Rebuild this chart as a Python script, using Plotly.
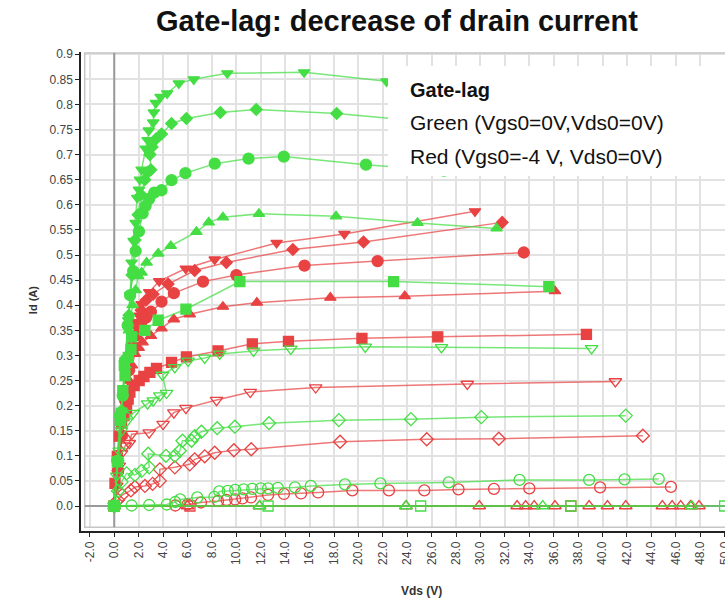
import plotly.graph_objects as go

# ---------------- data (Vds in V, Id in A) ----------------
# Green: Vgs0=0V, Vds0=0V
g1_x = [0, 0.3, 0.6, 0.9, 1.15, 1.3, 1.42, 1.58, 1.75, 1.88, 2.02, 2.10, 2.24, 2.57, 2.73, 2.83, 3.19, 3.24, 3.41, 3.79, 4.33, 5.29, 6.51, 9.26, 15.55, 22.3, 27.0]
g1_y = [0, 0.09, 0.19, 0.29, 0.37, 0.42, 0.485, 0.528, 0.564, 0.614, 0.630, 0.650, 0.670, 0.712, 0.729, 0.748, 0.764, 0.784, 0.803, 0.815, 0.822, 0.842, 0.850, 0.862, 0.864, 0.846, 0.835]

g2_x = [0, 0.3, 0.6, 0.9, 1.2, 1.45, 1.7, 1.95, 2.2, 2.5, 2.75, 3.0, 2.92, 3.1, 3.41, 3.87, 4.69, 5.91, 8.69, 11.63, 18.22, 24.5]
g2_y = [0, 0.09, 0.19, 0.29, 0.38, 0.46, 0.53, 0.58, 0.62, 0.65, 0.665, 0.670, 0.700, 0.715, 0.731, 0.741, 0.762, 0.772, 0.784, 0.790, 0.782, 0.768]

g3_x = [0, 0.25, 0.47, 0.69, 0.9, 1.1, 1.3, 1.55, 1.75, 2.02, 2.32, 2.57, 2.86, 3.27, 3.87, 4.69, 5.83, 8.23, 11.0, 13.89, 20.62, 27.0]
g3_y = [0, 0.09, 0.18, 0.22, 0.29, 0.36, 0.42, 0.468, 0.508, 0.547, 0.583, 0.598, 0.612, 0.624, 0.629, 0.649, 0.663, 0.682, 0.692, 0.696, 0.680, 0.668]

g4_x = [0, 0.3, 0.6, 0.9, 1.2, 1.5, 1.75, 1.96, 2.24, 2.65, 3.6, 4.63, 6.73, 7.74, 8.9, 11.85, 18.17, 24.84, 31.32]
g4_y = [0, 0.09, 0.19, 0.28, 0.35, 0.40, 0.43, 0.458, 0.465, 0.485, 0.503, 0.518, 0.546, 0.565, 0.575, 0.582, 0.577, 0.564, 0.553]

g5_x = [0, 0.25, 0.5, 0.7, 0.88, 0.82, 1.15, 1.37, 1.42, 2.51, 3.6, 5.87, 10.29, 22.88, 35.6]
g5_y = [0, 0.088, 0.17, 0.23, 0.26, 0.28, 0.296, 0.312, 0.337, 0.35, 0.37, 0.392, 0.447, 0.447, 0.437]

g6_x = [0, 0.2, 0.4, 0.6, 1.0, 1.55, 2.73, 3.19, 3.73, 4.28, 3.95, 4.96, 6.05, 7.41, 8.64, 11.41, 14.46, 20.56, 26.8, 39.1]
g6_y = [0, 0.06, 0.11, 0.15, 0.168, 0.185, 0.204, 0.210, 0.220, 0.225, 0.261, 0.276, 0.289, 0.295, 0.303, 0.309, 0.313, 0.317, 0.316, 0.314]

g7_x = [0, 0.3, 0.6, 1.01, 1.69, 2.24, 2.86, 2.78, 4.23, 4.96, 5.37, 5.59, 6.33, 6.59, 7.14, 8.43, 9.88, 12.68, 18.4, 24.3, 30.07, 41.9]
g7_y = [0, 0.03, 0.048, 0.065, 0.062, 0.070, 0.077, 0.104, 0.100, 0.100, 0.110, 0.130, 0.130, 0.139, 0.148, 0.155, 0.158, 0.165, 0.171, 0.173, 0.177, 0.180]

g8_x = [0, 1.42, 2.86, 4.3, 5.0, 5.4, 6.8, 8.2, 8.6, 9.3, 9.9, 10.6, 11.3, 12.0, 12.6, 13.4, 14.8, 16.1, 18.9, 21.8, 27.4, 33.2, 38.9, 41.8, 44.6]
g8_y = [0, 0.001, 0.002, 0.003, 0.008, 0.013, 0.017, 0.018, 0.029, 0.030, 0.032, 0.033, 0.034, 0.035, 0.035, 0.036, 0.037, 0.040, 0.043, 0.045, 0.047, 0.052, 0.052, 0.053, 0.054]

g9_x = [0, 11.9, 23.9, 35.1, 47.3]
g9_y = [0, 0, 0, 0, 0]

g10_x = [0, 12.6, 25.1, 37.4, 50.0]
g10_y = [0, 0, 0, 0, 0]

# Red: Vgs0=-4V, Vds0=0V
r1_x = [0, 0.3, 0.6, 0.9, 1.2, 1.5, 1.83, 2.04, 2.24, 2.86, 3.68, 5.86, 8.23, 13.3, 18.85, 29.55]
r1_y = [0, 0.07, 0.14, 0.21, 0.27, 0.32, 0.366, 0.379, 0.402, 0.426, 0.448, 0.473, 0.491, 0.524, 0.542, 0.587]

r2_x = [0, 0.3, 0.6, 0.9, 1.2, 1.5, 1.8, 2.2, 2.6, 3.19, 4.41, 6.59, 9.18, 14.63, 20.42, 31.78]
r2_y = [0, 0.07, 0.14, 0.21, 0.27, 0.32, 0.36, 0.39, 0.41, 0.422, 0.442, 0.469, 0.485, 0.511, 0.526, 0.565]

r3_x = [0, 0.3, 0.6, 0.9, 1.2, 1.5, 1.8, 2.2, 2.6, 3.0, 3.87, 4.88, 7.27, 10.0, 15.58, 21.57, 33.55]
r3_y = [0, 0.07, 0.14, 0.21, 0.27, 0.31, 0.34, 0.365, 0.375, 0.387, 0.407, 0.424, 0.447, 0.460, 0.479, 0.488, 0.505]

r4_x = [0, 0.3, 0.6, 0.9, 1.2, 1.45, 1.69, 2.0, 2.32, 3.0, 3.87, 4.88, 6.18, 8.9, 11.68, 17.7, 23.8, 36.1]
r4_y = [0, 0.07, 0.14, 0.20, 0.25, 0.28, 0.303, 0.315, 0.326, 0.339, 0.354, 0.372, 0.382, 0.397, 0.405, 0.415, 0.418, 0.428]

r5_x = [0, 0.06, 0.25, 0.41, 0.6, 0.8, 1.01, 1.14, 1.28, 1.63, 2.04, 2.43, 2.92, 3.46, 4.69, 5.91, 8.5, 11.31, 14.27, 20.29, 26.5, 38.68]
r5_y = [0, 0.045, 0.099, 0.139, 0.165, 0.18, 0.194, 0.213, 0.227, 0.240, 0.250, 0.258, 0.266, 0.274, 0.286, 0.297, 0.309, 0.323, 0.328, 0.334, 0.337, 0.342]

r6_x = [0, 0.2, 0.4, 0.6, 0.9, 1.23, 1.42, 2.86, 4.0, 4.88, 5.87, 8.38, 11.14, 16.5, 28.92, 41.05]
r6_y = [0, 0.04, 0.08, 0.105, 0.12, 0.125, 0.143, 0.146, 0.163, 0.186, 0.195, 0.211, 0.227, 0.236, 0.243, 0.248]

r7_x = [0, 0.3, 0.65, 1.36, 1.69, 2.51, 3.14, 3.73, 3.73, 4.96, 6.18, 6.59, 7.41, 8.23, 9.8, 11.22, 18.5, 25.6, 31.5, 43.3]
r7_y = [0, 0.012, 0.022, 0.031, 0.038, 0.040, 0.044, 0.050, 0.073, 0.077, 0.083, 0.093, 0.099, 0.106, 0.111, 0.113, 0.128, 0.133, 0.134, 0.140]

r8_x = [0, 5.0, 6.0, 7.1, 8.5, 9.2, 9.9, 10.5, 11.2, 12.6, 13.9, 15.3, 16.7, 19.5, 22.5, 25.4, 28.2, 31.1, 34.0, 39.8, 45.6]
r8_y = [0, 0.001, 0.003, 0.007, 0.010, 0.012, 0.013, 0.015, 0.017, 0.022, 0.024, 0.025, 0.027, 0.031, 0.031, 0.031, 0.033, 0.034, 0.035, 0.037, 0.038]

r9_x = [0, 6.0, 11.9, 23.9, 29.9, 33.0, 33.7, 34.4, 36.1, 38.9, 40.4, 41.9, 44.9, 45.7, 46.4, 47.2, 47.9]
r9_y = [0] * len(r9_x)

r10_x = [0, 6.2, 37.4]
r10_y = [0, 0, 0]

x_ticks = [-2, 0, 2, 4, 6, 8, 10, 12, 14, 16, 18, 20, 22, 24, 26, 28, 30, 32, 34, 36, 38, 40, 42, 44, 46, 48, 50]
x_tick_text = ["-2.0", "0.0", "2.0", "4.0", "6.0", "8.0", "10.0", "12.0", "14.0", "16.0", "18.0", "20.0", "22.0",
               "24.0", "26.0", "28.0", "30.0", "32.0", "34.0", "36.0", "38.0", "40.0", "42.0", "44.0", "46.0",
               "48.0", "50.0"]
y_ticks = [0.0, 0.05, 0.1, 0.15, 0.2, 0.25, 0.3, 0.35, 0.4, 0.45, 0.5, 0.55, 0.6, 0.65, 0.7, 0.75, 0.8, 0.85, 0.9]
y_tick_text = ["0.0", "0.05", "0.1", "0.15", "0.2", "0.25", "0.3", "0.35", "0.4", "0.45", "0.5", "0.55",
               "0.6", "0.65", "0.7", "0.75", "0.8", "0.85", "0.9"]

# ---------------- styles ----------------
GREEN = "rgb(68,222,68)"
GREEN_LINE = "rgba(68,222,68,0.72)"
RED = "rgb(232,66,66)"
RED_LINE = "rgba(232,66,66,0.72)"
FONT = "Liberation Sans, Arial, sans-serif"

red_series = [
    (r1_x, r1_y, "triangle-down", 10),
    (r2_x, r2_y, "diamond", 9),
    (r3_x, r3_y, "circle", 11),
    (r4_x, r4_y, "triangle-up", 10),
    (r5_x, r5_y, "square", 10),
    (r6_x, r6_y, "triangle-down-open", 11),
    (r7_x, r7_y, "diamond-open", 10),
    (r8_x, r8_y, "circle-open", 11),
    (r9_x, r9_y, "triangle-up-open", 11),
    (r10_x, r10_y, "square-open", 10),
]
green_series = [
    (g1_x, g1_y, "triangle-down", 10),
    (g2_x, g2_y, "diamond", 9),
    (g3_x, g3_y, "circle", 11),
    (g4_x, g4_y, "triangle-up", 10),
    (g5_x, g5_y, "square", 10),
    (g6_x, g6_y, "triangle-down-open", 11),
    (g7_x, g7_y, "diamond-open", 10),
    (g8_x, g8_y, "circle-open", 11),
    (g9_x, g9_y, "triangle-up-open", 11),
    (g10_x, g10_y, "square-open", 10),
]

fig = go.Figure()
for series, col, lcol in ((red_series, RED, RED_LINE), (green_series, GREEN, GREEN_LINE)):
    for xs, ys, sym, sz in series:
        fig.add_trace(go.Scatter(
            x=xs, y=ys, mode="lines+markers",
            line=dict(color=lcol, width=1.5),
            marker=dict(symbol=sym, size=sz, color=col, line=dict(color=col, width=1.3)),
            showlegend=False, hoverinfo="skip"))

X0, X1 = -2.725, 50.03
Y0, Y1 = -0.0498, 0.9044

fig.update_layout(
    width=725, height=603,
    margin=dict(l=81, r=0, t=52, b=72),
    paper_bgcolor="white", plot_bgcolor="white",
    font=dict(family=FONT, color="#444"),
    xaxis=dict(range=[X0, X1], tickvals=x_ticks, ticktext=x_tick_text, tickangle=-90,
               ticklabeloverflow="allow", automargin=False,
               showgrid=True, gridcolor="#e2e2e2", gridwidth=1.5, zeroline=False,
               showline=True, linecolor="#222", linewidth=1.5,
               ticks="outside", ticklen=4, tickcolor="#222", tickwidth=1,
               tickfont=dict(size=12, color="#444", family=FONT)),
    yaxis=dict(range=[Y0, Y1], tickvals=y_ticks, ticktext=y_tick_text, automargin=False,
               showgrid=True, gridcolor="#e2e2e2", gridwidth=1.5, zeroline=False,
               showline=True, linecolor="#222", linewidth=1.5,
               ticks="outside", ticklen=4, tickcolor="#222", tickwidth=1,
               tickfont=dict(size=12, color="#444", family=FONT)),
)

shapes = [
    # masks between axis lines and plot frame
    dict(type="rect", xref="x", yref="y", x0=X0, x1=-2.42, y0=Y0, y1=Y1,
         fillcolor="white", line=dict(width=0), layer="between"),
    dict(type="rect", xref="x", yref="y", x0=X0, x1=X1, y0=Y0, y1=-0.0425,
         fillcolor="white", line=dict(width=0), layer="between"),
    # frame
    dict(type="rect", xref="x", yref="y", x0=-2.42, x1=X1 + 1, y0=-0.0425, y1=0.9025,
         line=dict(color="#c6c6c6", width=1.5), layer="between"),
    # zero lines
    dict(type="line", xref="x", yref="y", x0=0, x1=0, y0=-0.0425, y1=0.9025,
         line=dict(color="#9a9a9a", width=2), layer="between"),
    dict(type="line", xref="x", yref="y", x0=-2.42, x1=X1, y0=0, y1=0,
         line=dict(color="#9a9a9a", width=2), layer="between"),
    # legend box
    dict(type="rect", xref="paper", yref="paper", x0=0.4767, x1=1.02, y0=0.741, y1=0.971,
         fillcolor="white", line=dict(width=0), layer="above"),
]
fig.update_layout(shapes=shapes)

annotations = [
    dict(text="<b>Gate-lag: decrease of drain current</b>", xref="paper", yref="paper",
         x=0.4907, y=1.0645, xanchor="center", yanchor="middle", showarrow=False,
         font=dict(size=29, color="#111", family=FONT)),
    dict(text="<b>Id (A)</b>", xref="paper", yref="paper", x=-0.0745, y=0.482,
         xanchor="center", yanchor="middle", textangle=-90, showarrow=False,
         font=dict(size=11, color="#333", family=FONT)),
    dict(text="<b>Vds (V)</b>", xref="paper", yref="paper", x=0.528, y=-0.1253,
         xanchor="center", yanchor="middle", showarrow=False,
         font=dict(size=12, color="#333", family=FONT)),
    dict(text="<b>Gate-lag</b>", xref="paper", yref="paper", x=0.5078, y=0.9207,
         xanchor="left", yanchor="middle", showarrow=False,
         font=dict(size=20, color="#111", family=FONT)),
    dict(text="Green (Vgs0=0V,Vds0=0V)", xref="paper", yref="paper", x=0.5078, y=0.8518,
         xanchor="left", yanchor="middle", showarrow=False,
         font=dict(size=21, color="#111", family=FONT)),
    dict(text="Red (Vgs0=-4 V, Vds0=0V)", xref="paper", yref="paper", x=0.5078, y=0.7808,
         xanchor="left", yanchor="middle", showarrow=False,
         font=dict(size=21, color="#111", family=FONT)),
]
fig.update_layout(annotations=annotations)

fig.write_html("out.html")
